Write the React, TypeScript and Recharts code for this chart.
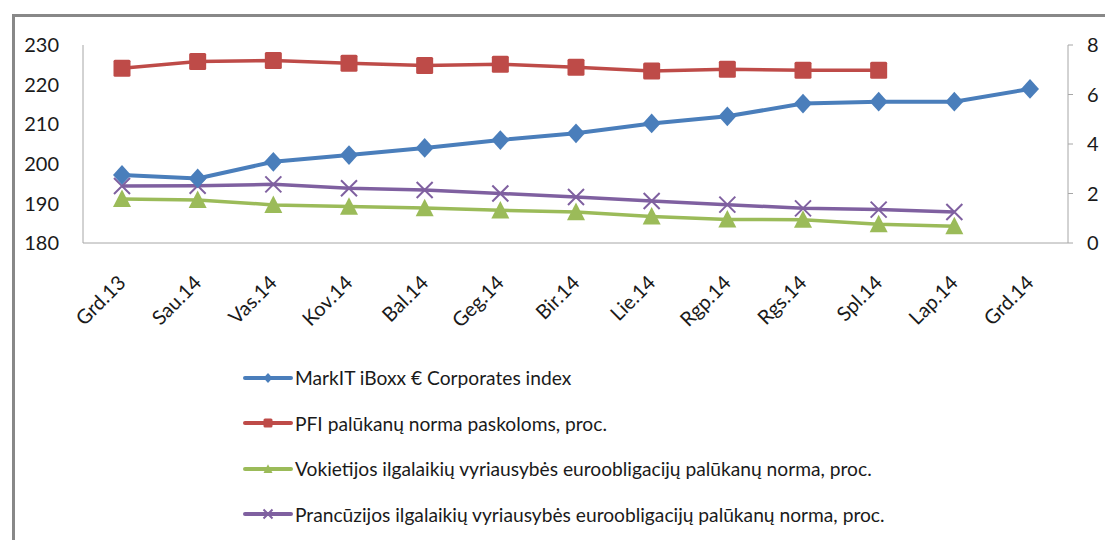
import { LineChart, Line, XAxis, YAxis, Legend } from "recharts";

const months = [
  "Grd.13", "Sau.14", "Vas.14", "Kov.14", "Bal.14", "Geg.14", "Bir.14",
  "Lie.14", "Rgp.14", "Rgs.14", "Spl.14", "Lap.14", "Grd.14",
];

const iboxx = [197.2, 196.3, 200.5, 202.2, 204, 206, 207.7, 210.2, 212, 215.2, 215.7, 215.7, 218.9];
const pfi = [7.06, 7.33, 7.37, 7.26, 7.17, 7.22, 7.1, 6.95, 7.02, 6.98, 6.98, null, null];
const germany = [1.78, 1.74, 1.54, 1.47, 1.41, 1.32, 1.25, 1.07, 0.95, 0.94, 0.76, 0.68];
const france = [2.3, 2.31, 2.37, 2.21, 2.14, 2.0, 1.86, 1.7, 1.55, 1.4, 1.35, 1.25];

const leftTicks = [180, 190, 200, 210, 220, 230];
const rightTicks = [0, 2, 4, 6, 8];

const names = {
  iboxx: "MarkIT iBoxx € Corporates index",
  pfi: "PFI palūkanų norma paskoloms, proc.",
  germany: "Vokietijos ilgalaikių vyriausybės euroobligacijų palūkanų norma, proc.",
  france: "Prancūzijos ilgalaikių vyriausybės euroobligacijų palūkanų norma, proc.",
};

const data = months.map((m, i) => ({
  month: m,
  iboxx: iboxx[i],
  pfi: pfi[i],
  germany: germany[i] ?? null,
  france: france[i] ?? null,
}));

const BLUE = "#4A7EBB";
const RED = "#BE4B48";
const GREEN = "#9BBB59";
const PURPLE = "#7F60A0";
const FONT = "Lato, 'Open Sans', sans-serif";

type Shape = "diamond" | "square" | "triangle" | "cross";

function marker(shape: Shape, cx: number, cy: number, color: string, s: number) {
  if (shape === "diamond") {
    return <path d={`M${cx},${cy - s * 1.1} L${cx + s},${cy} L${cx},${cy + s * 1.1} L${cx - s},${cy} Z`} fill={color} />;
  }
  if (shape === "square") {
    return <rect x={cx - s} y={cy - s} width={s * 2} height={s * 2} rx={1.5} fill={color} />;
  }
  if (shape === "triangle") {
    return <path d={`M${cx},${cy - s * 1.05} L${cx + s},${cy + s * 0.9} L${cx - s},${cy + s * 0.9} Z`} fill={color} />;
  }
  return (
    <path
      d={`M${cx - s},${cy - s} L${cx + s},${cy + s} M${cx + s},${cy - s} L${cx - s},${cy + s}`}
      stroke={color}
      strokeWidth={2}
      fill="none"
    />
  );
}

const makeDot = (shape: Shape, color: string, s: number) => (props: any) => {
  const { cx, cy, index } = props;
  if (cx == null || cy == null || props.value == null) return <g key={index} />;
  return <g key={index}>{marker(shape, cx, cy, color, s)}</g>;
};

const XTick = (props: any) => {
  const { x, payload } = props;
  const tx = x + 5;
  const ty = 284;
  return (
    <text
      x={tx}
      y={ty}
      transform={`rotate(-45 ${tx} ${ty})`}
      textAnchor="end"
      fontFamily={FONT}
      fontSize={20}
      fill="#1a1a1a"
    >
      {payload.value}
    </text>
  );
};

const legendRows: { key: keyof typeof names; color: string; shape: Shape }[] = [
  { key: "iboxx", color: BLUE, shape: "diamond" },
  { key: "pfi", color: RED, shape: "square" },
  { key: "germany", color: GREEN, shape: "triangle" },
  { key: "france", color: PURPLE, shape: "cross" },
];

const LegendContent = () => (
  <div>
    {legendRows.map((r) => (
      <div key={r.key} style={{ display: "flex", alignItems: "center", height: 45.5 }}>
        <svg width={50} height={20} style={{ flex: "none" }}>
          <line x1={2} y1={10} x2={48} y2={10} stroke={r.color} strokeWidth={4} strokeLinecap="round" />
          {marker(r.shape, 25, 10, r.color, 4.5)}
        </svg>
        <span style={{ fontFamily: FONT, fontSize: 19.2, color: "#1a1a1a", marginLeft: 2 }}>{names[r.key]}</span>
      </div>
    ))}
  </div>
);

export default function App() {
  return (
    <div style={{ position: "absolute", left: 0, top: 0, width: 1105, height: 540, overflow: "hidden", background: "#fff" }}>
      <div
        style={{
          position: "absolute",
          left: 12,
          top: 14,
          width: 1200,
          height: 600,
          borderLeft: "3px solid #888",
          borderTop: "3px solid #888",
        }}
      />
      <LineChart
        width={1105}
        height={540}
        data={data}
        margin={{ top: 45, right: 0, left: 20, bottom: 237 }}
        style={{ position: "absolute", left: 0, top: 0 }}
      >
        <XAxis
          dataKey="month"
          height={60}
          interval={0}
          padding={{ left: 39, right: 38 }}
          tickLine={false}
          axisLine={{ stroke: "#A6A6A6" }}
          tick={<XTick />}
        />
        <YAxis
          yAxisId="left"
          width={63}
          domain={[180, 230]}
          ticks={leftTicks}
          tickLine={false}
          axisLine={{ stroke: "#A6A6A6" }}
          tickMargin={18}
          tick={{ fontFamily: FONT, fontSize: 20, fill: "#1a1a1a" }}
        />
        <YAxis
          yAxisId="right"
          orientation="right"
          width={37}
          domain={[0, 8]}
          ticks={rightTicks}
          tickSize={5}
          tickLine={{ stroke: "#A6A6A6" }}
          axisLine={{ stroke: "#A6A6A6" }}
          tickMargin={14}
          tick={{ fontFamily: FONT, fontSize: 20, fill: "#1a1a1a" }}
        />
        <Legend
          layout="vertical"
          align="center"
          verticalAlign="middle"
          content={<LegendContent />}
          wrapperStyle={{ left: 243, top: 355, width: 720, height: 185 }}
        />
        <Line
          yAxisId="right"
          dataKey="pfi"
          name={names.pfi}
          stroke={RED}
          strokeWidth={3.5}
          dot={makeDot("square", RED, 8.5)}
          isAnimationActive={false}
        />
        <Line
          yAxisId="right"
          dataKey="france"
          name={names.france}
          stroke={PURPLE}
          strokeWidth={3.5}
          dot={makeDot("cross", PURPLE, 8)}
          isAnimationActive={false}
        />
        <Line
          yAxisId="right"
          dataKey="germany"
          name={names.germany}
          stroke={GREEN}
          strokeWidth={3.5}
          dot={makeDot("triangle", GREEN, 9)}
          isAnimationActive={false}
        />
        <Line
          yAxisId="left"
          dataKey="iboxx"
          name={names.iboxx}
          stroke={BLUE}
          strokeWidth={4}
          dot={makeDot("diamond", BLUE, 9)}
          isAnimationActive={false}
        />
      </LineChart>
    </div>
  );
}
